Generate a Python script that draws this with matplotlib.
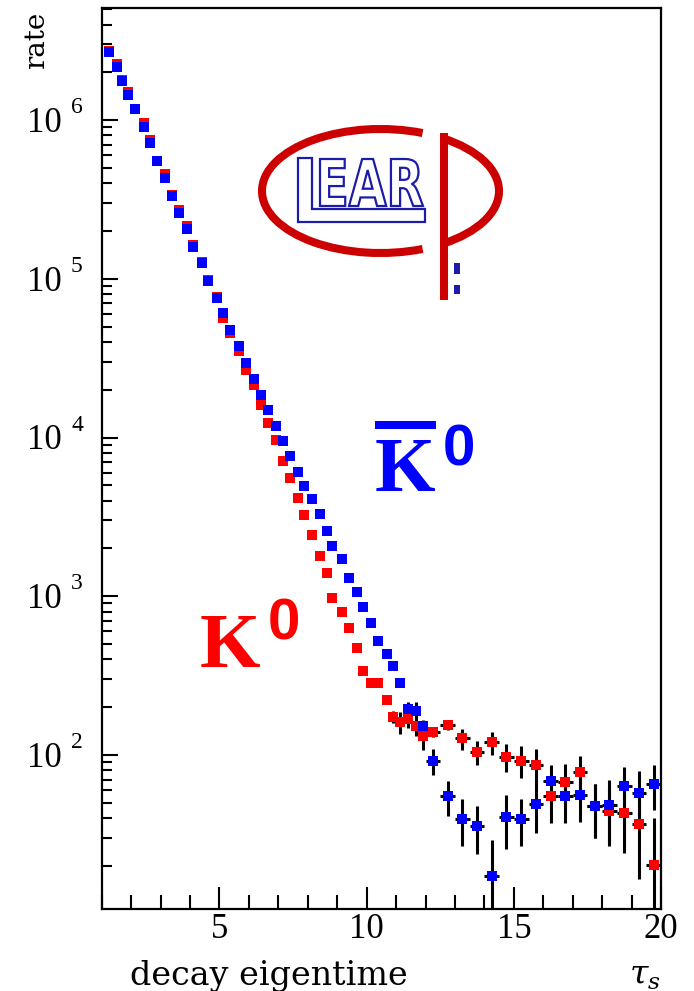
"""
CPLEAR-style decay-rate plot: K0 and K0bar rates vs decay eigentime (log scale),
with the LEAR logo drawn on top.
"""
import numpy as np
import matplotlib
matplotlib.use("Agg")
import matplotlib.pyplot as plt
from matplotlib import patches
from matplotlib import transforms as mtrans
from matplotlib.ticker import MultipleLocator, LogLocator, NullFormatter
from matplotlib.textpath import TextPath
from matplotlib.font_manager import FontProperties

W, H = 694, 991

# decay eigentime (units of tau_S), bin centres
tau = [1.25, 1.51, 1.70, 1.90, 2.13, 2.44, 2.64, 2.88, 3.15, 3.38, 3.64, 3.89,
       4.11, 4.40, 4.62, 4.92, 5.13,
       5.36, 5.66, 5.89, 6.17, 6.41, 6.66, 6.91, 7.17, 7.40, 7.66, 7.88, 8.15,
       8.42, 8.64, 8.83, 9.15, 9.41, 9.66, 9.89, 10.15, 10.40, 10.68, 10.91,
       11.13, 11.41, 11.68, 11.92,
       12.25, 12.75, 13.25, 13.75, 14.25, 14.75, 15.25, 15.75, 16.25, 16.75,
       17.25, 17.75, 18.25, 18.75, 19.25, 19.75]

rate_kbar = [2.67e6, 2.16e6, 1.76e6, 1.43e6, 1.17e6, 9.08e5, 7.20e5, 5.52e5,
             4.34e5, 3.34e5, 2.61e5, 2.05e5, 1.58e5, 1.26e5, 9.70e4, 7.60e4, 6.08e4,
             4.73e4, 3.75e4, 2.95e4, 2.34e4, 1.86e4, 1.50e4, 1.19e4, 9480, 7630,
             6050, 4940, 4070, 3280, 2580, 2070, 1710, 1310, 1060, 861, 683, 524,
             431, 365, 284, 194, 190, 153,
             92, 55, 39.5, 35.9, 17.3, 40.6, 39.5, 49.2, 68.9, 55.5, 56, 48,
             48.6, 64.1, 57.4, 65.8]
err_kbar = [0] * 38 + [12, 14, 16, 21, 25, 12,
                       17, 14, 13, 12, 12, 15, 13, 17, 17, 18, 18, 18, 21, 20, 22, 21]

rate_k = [2.72e6, 2.25e6, 1.78e6, 1.50e6, 1.18e6, 9.60e5, 7.50e5, 5.55e5,
          4.55e5, 3.36e5, 2.72e5, 2.15e5, 1.64e5, 1.27e5, 9.80e4, 7.70e4, 5.66e4,
          4.57e4, 3.49e4, 2.68e4, 2.15e4, 1.61e4, 1.24e4, 9700, 7090, 5580,
          4180, 3230, 2420, 1790, 1410, 981, 797, 635, 475, 339, 284, 286,
          223, 173, 161, 168, 152, 132,
          139, 154, 127, 104, 120, 97.6, 92.1, 86.5, 55, 67.3, 77.8, 47.8,
          44.6, 43.2, 36.5, 20.3]
err_k = [0] * 38 + [15, 15, 25, 20, 20, 25,
                    10, 10, 19, 18, 20, 19, 21, 22, 18, 20, 21, 18, 18, 19, 20, 20]

decades = [2, 3, 4, 5, 6]

RED, BLUE = "#ff0000", "#0000ff"
LOGO_RED, LOGO_BLUE = "#cc0000", "#1c1ca8"

tau = np.array(tau)
halfwidth = np.where(tau > 12, 0.25, 0.125)

fig = plt.figure(figsize=(W / 100, H / 100), dpi=100)
L, R, T, B = 101.7, 661, 8.3, 909
ax = fig.add_axes([L / W, 1 - B / H, (R - L) / W, (B - T) / H])

# error bars first (black), then the markers on top
for rate, err in [(rate_k, err_k), (rate_kbar, err_kbar)]:
    ax.errorbar(tau, rate, yerr=err, xerr=halfwidth, fmt="none", ecolor="black",
                elinewidth=2.2, capsize=0, zorder=2)
ax.plot(tau, rate_k, "s", color=RED, ms=7, mew=0, zorder=3)
ax.plot(tau, rate_kbar, "s", color=BLUE, ms=7, mew=0, zorder=4)

ax.set_yscale("log")
ax.set_xlim(1, 20)
ax.set_ylim(10.7, 5.06e6)
for s in ax.spines.values():
    s.set_linewidth(1.6)

ax.xaxis.set_major_locator(MultipleLocator(5))
ax.xaxis.set_minor_locator(MultipleLocator(1))
ax.yaxis.set_major_locator(LogLocator(base=10))
ax.yaxis.set_minor_locator(LogLocator(base=10, subs=np.arange(2, 10)))
ax.yaxis.set_major_formatter(NullFormatter())
ax.yaxis.set_minor_formatter(NullFormatter())
ax.tick_params(which="both", direction="in", top=False, right=False, width=1.5)
ax.tick_params(axis="x", which="major", length=16, pad=3, labelsize=25)
ax.tick_params(axis="x", which="minor", length=10)
ax.tick_params(axis="y", which="major", length=11.5)
ax.tick_params(axis="y", which="minor", length=7)
for lab in ax.get_xticklabels():
    lab.set_family("Liberation Serif")

# y tick labels in the "10  n" style
blend = mtrans.blended_transform_factory(fig.transFigure, ax.transData)
base_tr = mtrans.offset_copy(blend, fig=fig, y=-8.6, units="points")
exp_tr = mtrans.offset_copy(blend, fig=fig, y=5, units="points")
for e in decades:
    ax.text(62 / W, 10.0 ** e, "10", transform=base_tr, ha="right", va="baseline",
            fontsize=25, family="Liberation Serif")
    ax.text(71 / W, 10.0 ** e, str(e), transform=exp_tr, ha="left", va="baseline",
            fontsize=17, family="Liberation Serif")

# overlay in image pixel coordinates for labels and the logo
ov = fig.add_axes([0, 0, 1, 1], zorder=5)
ov.set_xlim(0, W)
ov.set_ylim(H, 0)
ov.axis("off")

ov.text(37, 12, "rate", rotation=90, ha="center", va="top", fontsize=20,
        family="DejaVu Serif")
ov.text(269, 985, "decay eigentime", ha="center", va="baseline", fontsize=24,
        family="DejaVu Serif")
plt.rcParams["mathtext.fontset"] = "dejavuserif"
ov.text(629, 985, r"$\tau_{s}$", ha="left", va="baseline", fontsize=24)

# K0 / K0bar labels
ov.text(200, 667, "K", color=RED, fontsize=56, fontweight="bold",
        family="Liberation Serif", ha="left", va="baseline")
ov.text(268, 640, "0", color=RED, fontsize=42, fontweight="bold",
        family="Liberation Sans", ha="left", va="baseline")
ov.text(375, 491, "K", color=BLUE, fontsize=56, fontweight="bold",
        family="Liberation Serif", ha="left", va="baseline")
ov.text(443, 465, "0", color=BLUE, fontsize=42, fontweight="bold",
        family="Liberation Sans", ha="left", va="baseline")
ov.add_patch(patches.Rectangle((375, 421), 61, 8, color=BLUE, lw=0))

# LEAR logo
cx, cy, ew, eh = 380.5, 191, 237, 124
ov.add_patch(patches.Arc((cx, cy), ew, eh, theta1=54, theta2=306,
                         color=LOGO_RED, lw=5.8))
ov.add_patch(patches.Arc((cx, cy), ew, eh, theta1=-40, theta2=40,
                         color=LOGO_RED, lw=5.8))
ov.plot([444, 444], [133, 300], color=LOGO_RED, lw=5.8, solid_capstyle="butt")

ov.add_patch(patches.Polygon([(298, 158), (312, 158), (312, 209), (425, 209),
                              (425, 222), (298, 222)], closed=True,
                             facecolor="white", edgecolor=LOGO_BLUE, lw=1.6))
tp = TextPath((0, 0), "EAR", size=10,
              prop=FontProperties(family="DejaVu Sans", weight="bold"))
bb = tp.get_extents()
tr = (mtrans.Affine2D().translate(-bb.x0, -bb.y0)
      .scale((423 - 320) / bb.width, -(206 - 159) / bb.height)
      .translate(320, 206))
ov.add_patch(patches.PathPatch(tr.transform_path(tp), facecolor="white",
                               edgecolor=LOGO_BLUE, lw=1.6))
ov.add_patch(patches.Rectangle((454.5, 263), 6, 11, color=LOGO_BLUE, lw=0))
ov.add_patch(patches.Rectangle((454.5, 285), 6, 9, color=LOGO_BLUE, lw=0))

fig.savefig("out.png", dpi=100)
